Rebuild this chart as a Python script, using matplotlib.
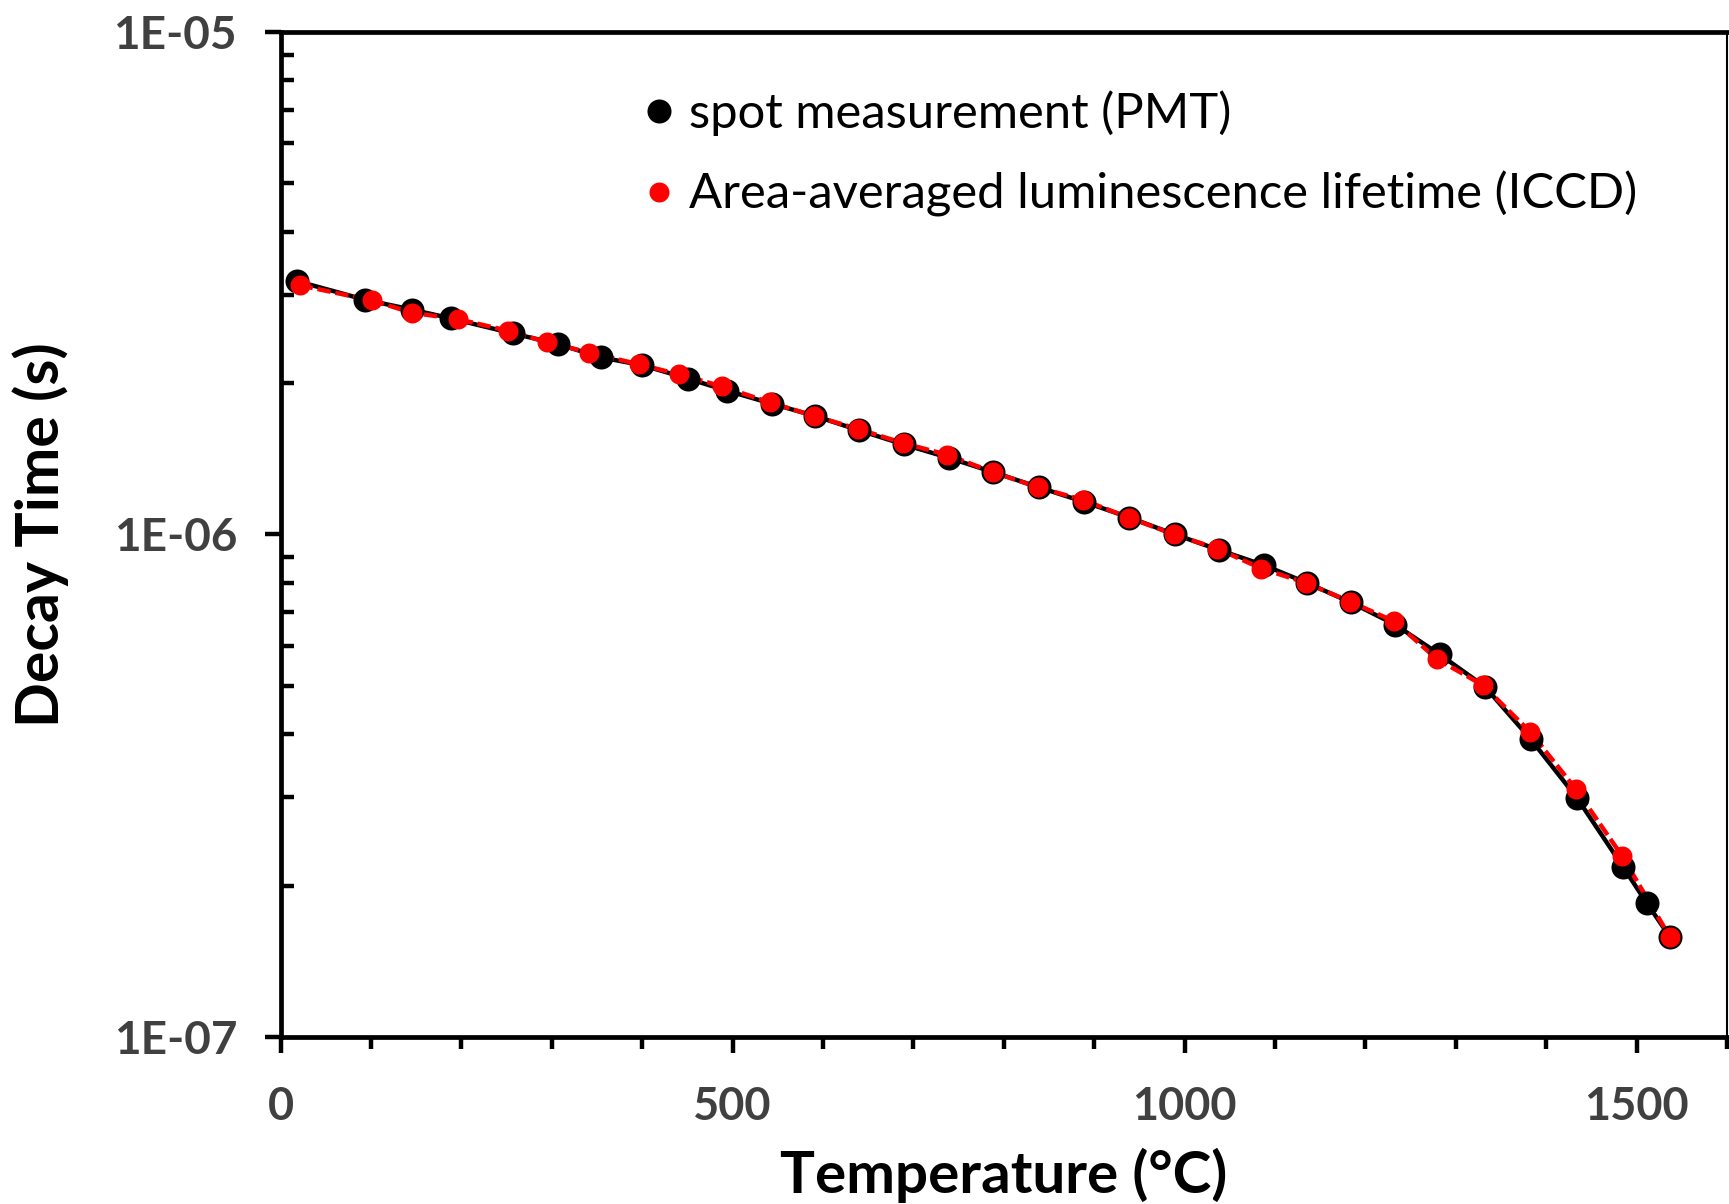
import matplotlib
matplotlib.use("Agg")
import matplotlib.pyplot as plt
from matplotlib.lines import Line2D
from matplotlib.ticker import FixedLocator, FixedFormatter, MultipleLocator, LogLocator, NullFormatter

plt.rcParams['font.family'] = ['Lato', 'DejaVu Sans']

# spot measurement (PMT)
pmt_temp = [18, 93, 145, 188, 257, 307, 354, 400, 451, 494, 543, 591, 640, 689, 739,
            788, 839, 889, 939, 989, 1038, 1088, 1135, 1184, 1233, 1282, 1332, 1383,
            1434, 1485, 1511, 1537]
pmt_tau = [3.19e-6, 2.93e-6, 2.80e-6, 2.69e-6, 2.51e-6, 2.39e-6, 2.25e-6, 2.17e-6,
           2.04e-6, 1.93e-6, 1.82e-6, 1.72e-6, 1.61e-6, 1.51e-6, 1.42e-6, 1.33e-6,
           1.24e-6, 1.16e-6, 1.08e-6, 1.00e-6, 9.31e-7, 8.68e-7, 8.01e-7, 7.32e-7,
           6.61e-7, 5.77e-7, 4.98e-7, 3.91e-7, 2.99e-7, 2.18e-7, 1.85e-7, 1.58e-7]

# area-averaged lifetime (ICCD)
iccd_temp = [21, 101, 145, 196, 252, 295, 341, 396, 441, 488, 541, 590, 639, 688, 737,
             788, 838, 888, 938, 988, 1036, 1085, 1134, 1183, 1232, 1279, 1330, 1382,
             1433, 1484, 1537]
iccd_tau = [3.13e-6, 2.92e-6, 2.76e-6, 2.68e-6, 2.54e-6, 2.41e-6, 2.30e-6, 2.18e-6,
            2.08e-6, 1.97e-6, 1.83e-6, 1.72e-6, 1.62e-6, 1.52e-6, 1.44e-6, 1.33e-6,
            1.24e-6, 1.17e-6, 1.08e-6, 1.00e-6, 9.37e-7, 8.55e-7, 8.01e-7, 7.35e-7,
            6.71e-7, 5.65e-7, 5.01e-7, 4.05e-7, 3.11e-7, 2.29e-7, 1.58e-7]

labels = ["spot measurement (PMT)", "Area-averaged luminescence lifetime (ICCD)"]
x_ticks = [0, 500, 1000, 1500]
y_ticks = [1e-7, 1e-6, 1e-5]
y_tick_labels = ["1E-07", "1E-06", "1E-05"]

W, H = 1729, 1204
fig = plt.figure(figsize=(W / 100, H / 100), dpi=100)
left, right, top, bottom = 280.7, 1727.0, 31.7, 1037.0
ax = fig.add_axes([left / W, 1 - bottom / H, (right - left) / W, (bottom - top) / H])

ax.plot(pmt_temp, pmt_tau, color='black', lw=3.2, zorder=2)
ax.plot(iccd_temp, iccd_tau, color='red', lw=3.2, dashes=(3, 1.1), zorder=3)
ax.plot(pmt_temp, pmt_tau, ls='none', marker='o', ms=17.3, mfc='black', mec='none', zorder=4)
ax.plot(iccd_temp, iccd_tau, ls='none', marker='o', ms=14.4, mfc='red', mec='none', zorder=5)

ax.set_yscale('log')
ax.set_xlim(0, 1600)
ax.set_ylim(1e-7, 1e-5)

ax.xaxis.set_major_locator(FixedLocator(x_ticks))
ax.xaxis.set_minor_locator(MultipleLocator(100))
ax.yaxis.set_major_locator(FixedLocator(y_ticks))
ax.yaxis.set_major_formatter(FixedFormatter(y_tick_labels))
ax.yaxis.set_minor_locator(LogLocator(base=10, subs=range(2, 10)))
ax.yaxis.set_minor_formatter(NullFormatter())

tick_color = '#404040'
ax.tick_params(axis='x', which='major', direction='out', length=11.5, width=3.2,
               pad=24, labelsize=32.5, labelcolor=tick_color)
ax.tick_params(axis='x', which='minor', direction='out', length=8.5, width=3.2)
ax.tick_params(axis='y', which='major', direction='out', length=11.5, width=3.2,
               pad=20, labelsize=33, labelcolor=tick_color)
ax.tick_params(axis='y', which='minor', direction='in', length=9.5, width=3.2)
for lab in ax.get_xticklabels() + ax.get_yticklabels():
    lab.set_fontweight('bold')

for side in ['left', 'bottom', 'top']:
    ax.spines[side].set_linewidth(3.4)
ax.spines['right'].set_linewidth(1.5)

ax.set_xlabel("Temperature (°C)", fontsize=42, fontweight='bold')
ax.set_ylabel("Decay Time (s)", fontsize=42.5, fontweight='bold')
ax.xaxis.set_label_coords(0.5, -0.1105)
ax.yaxis.set_label_coords(-0.1464, 0.5)

handles = [
    Line2D([], [], ls='none', marker='o', ms=17.3, mfc='black', mec='none'),
    Line2D([], [], ls='none', marker='o', ms=14.4, mfc='red', mec='none'),
]
ax.legend(handles, labels, loc='upper left', bbox_to_anchor=(634 / W, 1 - 90 / H),
          bbox_transform=fig.transFigure, frameon=False, fontsize=35.3,
          handlelength=1.0, handletextpad=0.12, labelspacing=0.72,
          borderpad=0, borderaxespad=0)

fig.savefig("out.png", dpi=100)
